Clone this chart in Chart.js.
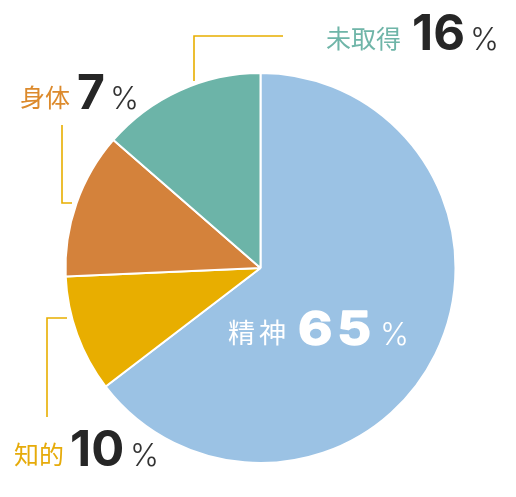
<!DOCTYPE html>
<html>
<head>
<meta charset="utf-8">
<script src="https://cdn.jsdelivr.net/npm/chart.js@4"></script>
<style>
  html, body { margin: 0; padding: 0; background: #ffffff; }
  #wrap { width: 516px; height: 497px; position: relative; }
</style>
</head>
<body>
<div id="wrap"><canvas id="c" width="516" height="497"></canvas></div>
<script>
// ---- data ----
const categories    = ['精神', '知的', '身体', '未取得'];
const sliceShares   = [64.6, 9.7, 12.1, 13.6];   // drawn slice sizes
const labelPercents = ['65', '10', '7', '16'];     // printed percentages
const sliceColors   = ['#9bc2e4', '#e8ae00', '#d4823b', '#6cb4a8'];
const textColors    = ['#ffffff', '#e6ab0a', '#dc8a2c', '#6fb5a8'];

// ---- label layout (annotation positions, not data marks) ----
const labelLayout = [
  { cjkX: 228, cjkSp: 4, numX: 298, pctX: 380, base: 345, cjk: 27, num: 46, stretch: 1.15, numSp: 5, bold: 1.6, pct: 31, numColor: '#ffffff', pctColor: '#ffffff' },
  { cjkX: 14,  cjkSp: 0, numX: 70,  pctX: 130, base: 466, cjk: 25, num: 49, stretch: 1,    numSp: 0, bold: 0,   pct: 31, numColor: '#262626', pctColor: '#333333' },
  { cjkX: 20,  cjkSp: 0, numX: 77,  pctX: 110, base: 109, cjk: 25, num: 48, stretch: 1,    numSp: 0, bold: 0,   pct: 31, numColor: '#262626', pctColor: '#333333' },
  { cjkX: 326, cjkSp: 0, numX: 412, pctX: 470, base: 50,  cjk: 25, num: 49, stretch: 1,    numSp: 0, bold: 0,   pct: 31, numColor: '#262626', pctColor: '#333333' }
];
const leaderLines = [
  null,
  [[67, 318], [47, 318], [47, 417]],
  [[72, 203], [62, 203], [62, 125]],
  [[194, 81], [194, 36], [283, 36]]
];
const leaderColor = '#e8ae00';

const CJK_FONT = '"Noto Sans CJK JP", "Noto Sans", sans-serif';
const NUM_FONT = 'Inter, "Open Sans", sans-serif';

const labelPlugin = {
  id: 'labels',
  afterDraw(chart) {
    const ctx = chart.ctx;
    ctx.save();
    ctx.strokeStyle = leaderColor;
    ctx.lineWidth = 1.6;
    leaderLines.forEach(pts => {
      if (!pts) return;
      ctx.beginPath();
      ctx.moveTo(pts[0][0], pts[0][1]);
      for (let i = 1; i < pts.length; i++) ctx.lineTo(pts[i][0], pts[i][1]);
      ctx.stroke();
    });
    ctx.textBaseline = 'alphabetic';
    ctx.textAlign = 'left';
    categories.forEach((cat, i) => {
      const L = labelLayout[i];
      // category name
      ctx.font = `400 ${L.cjk}px ${CJK_FONT}`;
      ctx.fillStyle = textColors[i];
      let x = L.cjkX;
      for (const ch of cat) {
        ctx.fillText(ch, x, L.base - 2);
        x += ctx.measureText(ch).width + L.cjkSp;
      }
      // number
      ctx.font = `700 ${L.num}px ${NUM_FONT}`;
      ctx.fillStyle = L.numColor;
      ctx.strokeStyle = L.numColor;
      ctx.lineJoin = 'round';
      x = L.numX;
      for (const ch of labelPercents[i]) {
        ctx.save();
        ctx.translate(x, L.base);
        ctx.scale(L.stretch, 1);
        ctx.fillText(ch, 0, 0);
        if (L.bold > 0) { ctx.lineWidth = L.bold; ctx.strokeText(ch, 0, 0); }
        ctx.restore();
        x += ctx.measureText(ch).width * L.stretch + L.numSp;
      }
      // percent sign
      ctx.font = `300 ${L.pct}px ${NUM_FONT}`;
      ctx.fillStyle = L.pctColor;
      ctx.fillText('%', L.pctX, L.base);
    });
    ctx.restore();
  }
};

new Chart(document.getElementById('c'), {
  type: 'pie',
  data: {
    labels: categories,
    datasets: [{
      data: sliceShares,
      backgroundColor: sliceColors,
      borderColor: '#ffffff',
      borderWidth: 2
    }]
  },
  options: {
    responsive: false,
    animation: false,
    layout: { padding: { top: 72, bottom: 33, left: 64, right: 59 } },
    plugins: {
      legend: { display: false },
      tooltip: { enabled: false }
    }
  },
  plugins: [labelPlugin]
});
</script>
</body>
</html>
